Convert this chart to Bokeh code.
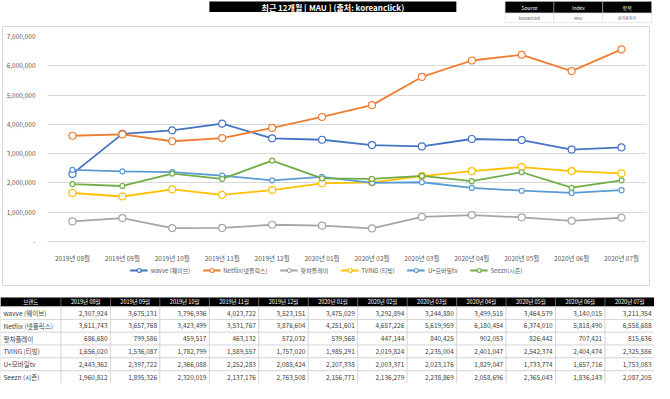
from bokeh.plotting import figure
from bokeh.layouts import column
from bokeh.models import (Range1d, FactorRange, FixedTicker, CustomJSTickFormatter,
                          Legend, LegendItem)
from bokeh.core.properties import value
from bokeh.embed import file_html
from bokeh.resources import INLINE

FONT = "Noto Sans CJK KR"

months = ["2019년 08월", "2019년 09월", "2019년 10월", "2019년 11월", "2019년 12월",
          "2020년 01월", "2020년 02월", "2020년 03월", "2020년 04월", "2020년 05월",
          "2020년 06월", "2020년 07월"]

legend_names = ["wavve (웨이브)", "Netflix(넷플릭스)", "왓챠플레이", "TVING (티빙)",
                "U+모바일tv", "Seezn(시즌)"]
table_names = ["wavve (웨이브)", "Netflix (넷플릭스)", "왓챠플레이", "TVING (티빙)",
               "U+모바일tv", "Seezn (시즌)"]

wavve = [2307924, 3675131, 3796936, 4023722, 3523151, 3475029, 3292894, 3244880,
         3499515, 3464579, 3140015, 3211354]
netflix = [3611743, 3657768, 3423499, 3531767, 3876604, 4251601, 4657226, 5619959,
           6180454, 6374010, 5818490, 6558688]
watcha = [686680, 799586, 459517, 463132, 572032, 539568, 447144, 840425,
          902053, 826442, 707421, 815636]
tving = [1656020, 1536087, 1782799, 1589557, 1757020, 1985291, 2019824, 2235004,
         2401047, 2542374, 2404474, 2325586]
uplus = [2443362, 2397722, 2366088, 2252283, 2088424, 2207338, 2003371, 2023176,
         1829047, 1733774, 1657716, 1753083]
seezn = [1960812, 1895326, 2320019, 2137176, 2763508, 2156771, 2136279, 2238869,
         2058696, 2365043, 1836143, 2087205]

series = [wavve, netflix, watcha, tving, uplus, seezn]
colors = ["#4472C4", "#ED7D31", "#A5A5A5", "#FFC000", "#5B9BD5", "#70AD47"]
marker_sizes = [7, 7, 7, 7, 5, 5]

y_ticks = [0, 1000000, 2000000, 3000000, 4000000, 5000000, 6000000, 7000000]

title_text = "최근 12개월 [ MAU ] (출처: koreanclick)"
info_head = ["Source", "Index", "항목"]
info_vals = ["koreanclick", "MAU", "순이용자수"]
table_head = "브랜드"

W = 654
CW = 646


def blank_fig(w, h, x0, x1, y0, y1):
    f = figure(width=w, height=h, x_range=Range1d(x0, x1), y_range=Range1d(y1, y0),
               x_axis_location=None, y_axis_location=None, frame_align=False,
               output_backend="svg", toolbar_location=None, min_border=0)
    f.grid.visible = False
    f.outline_line_color = None
    return f


# ---------------- header -----------------
hdr = blank_fig(W, 26, 0, 670, 0, 27)
hdr.quad(left=[214], right=[467], top=[1], bottom=[12], fill_color="black", line_color=None)
hdr.text(x=[340.5], y=[6.8], text=[title_text], text_color="white",
         text_font=value(FONT), text_font_size=value("8px"), text_font_style="bold",
         text_align="center", text_baseline="middle")
ix = [517, 567, 617, 667]
hdr.quad(left=ix[:3], right=ix[1:], top=[1] * 3, bottom=[13] * 3, fill_color="black",
         line_color="#bfbfbf", line_width=0.5)
hdr.quad(left=ix[:3], right=ix[1:], top=[13] * 3, bottom=[23] * 3, fill_color="white",
         line_color="#d0d0d0", line_width=0.5)
cx = [(ix[i] + ix[i + 1]) / 2 for i in range(3)]
hdr.text(x=cx, y=[7.3] * 3, text=info_head, text_color="white", text_font=value(FONT),
         text_font_size=value("5px"), text_align="center", text_baseline="middle")
hdr.text(x=cx, y=[18.3] * 3, text=info_vals, text_color="#595959", text_font=value(FONT),
         text_font_size=value("4px"), text_align="center", text_baseline="middle")

# ---------------- chart -----------------
p = figure(width=CW, height=238, x_range=FactorRange(*months),
           y_range=Range1d(0, 7000000), output_backend="svg", toolbar_location=None,
           frame_align=False,
           min_border_left=36, min_border_right=3, min_border_top=9, min_border_bottom=17)
p.x_range.range_padding = 0
p.outline_line_color = None
p.xgrid.grid_line_color = None
p.ygrid.grid_line_color = "#d9d9d9"
p.yaxis.ticker = FixedTicker(ticks=y_ticks)
p.yaxis.formatter = CustomJSTickFormatter(
    code="return tick == 0 ? '-' : tick.toLocaleString('en-US');")
p.yaxis.axis_line_color = None
p.yaxis.major_tick_line_color = None
p.yaxis.minor_tick_line_color = None
p.yaxis.major_label_standoff = 6
p.xaxis.axis_line_color = "#d9d9d9"
p.xaxis.major_tick_line_color = None
p.xaxis.major_label_standoff = 5
for ax in (p.xaxis, p.yaxis):
    ax.major_label_text_font = FONT
    ax.major_label_text_font_size = "6.5px"
    ax.major_label_text_color = "#595959"

for vals, col, ms in zip(series, colors, marker_sizes):
    p.line(x=months, y=vals, line_color=col, line_width=1.8)
    p.scatter(x=months, y=vals, size=ms, fill_color="white", line_color=col,
              line_width=1.2)

# ---------------- legend strip -----------------
# renderers here only provide the legend swatches; their points lie outside the view
lg = blank_fig(CW, 20, 0, 1, 0, 1)
items = []
for name, col, ms in zip(legend_names, colors, marker_sizes):
    r1 = lg.line(x=[5, 6], y=[5, 5], line_color=col, line_width=1.8)
    r2 = lg.scatter(x=[5], y=[5], size=ms - 1, fill_color="white", line_color=col,
                    line_width=1.2)
    items.append(LegendItem(label=name, renderers=[r1, r2]))
legend = Legend(items=items, orientation="horizontal", location="top_center",
                border_line_color=None, background_fill_alpha=0,
                label_text_font=FONT, label_text_font_size="6px",
                label_text_color="#595959", glyph_width=18, glyph_height=10,
                label_standoff=3, spacing=12, padding=1, margin=0)
lg.add_layout(legend)

box = column(p, lg, spacing=0,
             styles={"border": "1px solid #d9d9d9", "margin-left": "2px"})

# ---------------- table -----------------
t = blank_fig(W, 97, 0, 670, 298, 399)

edges = [0, 62] + [62 + (i + 1) * (608 / 12) for i in range(12)]
h_top, h_bot = 309.5, 319
row_h = (399 - h_bot) / 6
t.quad(left=edges[:-1], right=edges[1:], top=[h_top] * 13, bottom=[h_bot] * 13,
       fill_color="black", line_color="#7f7f7f", line_width=0.5)
hcx = [(edges[i] + edges[i + 1]) / 2 for i in range(13)]
t.text(x=hcx, y=[(h_top + h_bot) / 2 + 0.3] * 13, text=[table_head] + months,
       text_color="white", text_font=value(FONT), text_font_size=value("5.5px"),
       text_align="center", text_baseline="middle")

ql, qr, qt, qb = [], [], [], []
for r in range(6):
    for c in range(13):
        ql.append(edges[c]); qr.append(edges[c + 1])
        qt.append(h_bot + r * row_h); qb.append(h_bot + (r + 1) * row_h)
t.quad(left=ql, right=qr, top=qt, bottom=qb, fill_color="white", line_color="#d0d0d0",
       line_width=0.7)

row_y = [h_bot + (r + 0.5) * row_h for r in range(6)]
t.text(x=[3] * 6, y=row_y, text=table_names, text_color="#404040", text_font=value(FONT),
       text_font_size=value("6.5px"), text_align="left", text_baseline="middle")
nx, ny, nt = [], [], []
for r, vals in enumerate(series):
    for c, v in enumerate(vals):
        nx.append(edges[c + 2] - 3)
        ny.append(row_y[r])
        nt.append(f"{v:,}")
t.text(x=nx, y=ny, text=nt, text_color="#404040", text_font=value(FONT),
       text_font_size=value("6.5px"), text_align="right", text_baseline="middle")

layout = column(hdr, box, t, spacing=0)
open("out.html", "w").write(file_html(layout, INLINE))
